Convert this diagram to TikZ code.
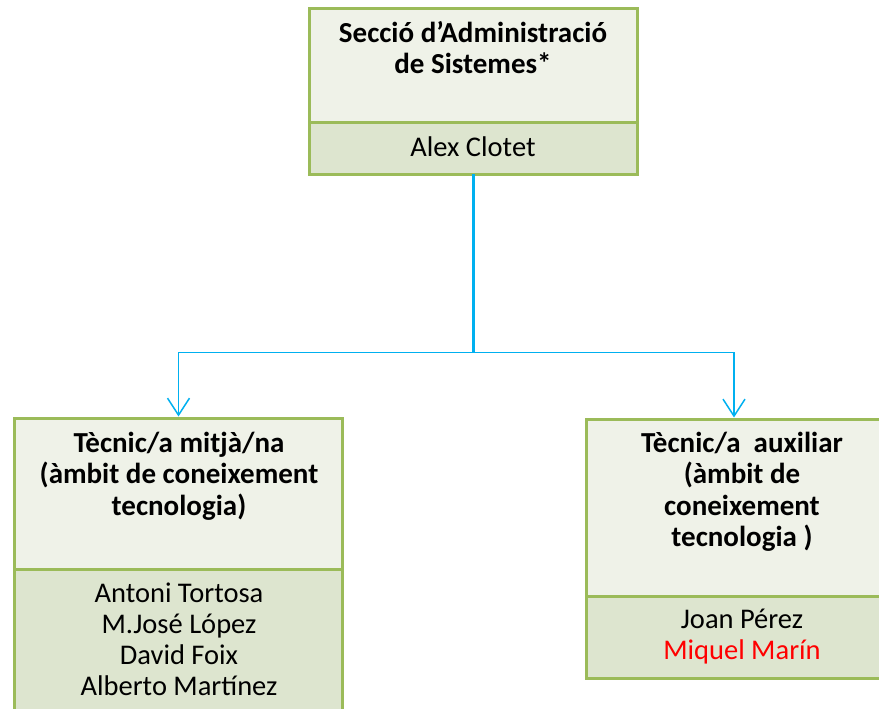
\documentclass[tikz,border=0pt]{standalone}
\usepackage{fontspec}
\setmainfont{Carlito}
\usetikzlibrary{arrows.meta,calc}
\definecolor{boxline}{HTML}{9BBB59}
\definecolor{headfill}{HTML}{EFF2E8}
\definecolor{bodyfill}{HTML}{DDE5CF}
\definecolor{linkcol}{HTML}{00B0F0}
\definecolor{redname}{HTML}{FF0000}
\newcommand{\firstline}{\rule{0pt}{25bp}}
\tikzset{
  headbox/.style={draw=boxline, fill=headfill, line width=3bp, rectangle, inner sep=0pt},
  bodybox/.style={draw=boxline, fill=bodyfill, line width=3bp, rectangle, inner sep=0pt},
  titletext/.style={font=\fontsize{29bp}{31.5bp}\selectfont\bfseries, align=center, inner sep=0pt, anchor=north},
  nametext/.style={font=\fontsize{28.5bp}{31bp}\selectfont, align=center, inner sep=0pt, anchor=north},
  trunk/.style={draw=linkcol, line width=3bp},
  branch/.style={draw=linkcol, line width=1.7bp, -{Straight Barb[length=17bp,width=22bp,line width=1.5bp]}}
}
\begin{document}
\begin{tikzpicture}[x=1bp,y=-1bp]
\useasboundingbox (0,0) rectangle (879,709);
\clip (0,0) rectangle (879,709);
\fill[white] (0,0) rectangle (879,709);
% top box
\node[headbox, minimum width=328bp, minimum height=114bp] (topH) at (473,66) {};
\node[bodybox, minimum width=328bp, minimum height=51bp] (topB) at (473,148.5) {};
\node[titletext] (topT) at (473,17) {\firstline Secció d’Administració\\de Sistemes*};
\node[nametext, anchor=base] (topN) at (473,157) {Alex Clotet};
% left box
\node[bodybox, minimum width=327bp, minimum height=161bp] (leftB) at (178.5,649.5) {};
\node[headbox, minimum width=327bp, minimum height=151bp] (leftH) at (178.5,493.5) {};
\node[titletext] (leftT) at (179,427) {\firstline Tècnic/a mitjà/na\\(àmbit de coneixement\\tecnologia)};
\node[nametext] (leftN) at (179,577) {\firstline Antoni Tortosa\\M.José López\\David Foix\\Alberto Martínez};
% right box
\node[bodybox, minimum width=314bp, minimum height=82bp] (rightB) at (743,637) {};
\node[headbox, minimum width=314bp, minimum height=177bp] (rightH) at (743,507.5) {};
\node[titletext] (rightT) at (742,427) {\firstline Tècnic/a\ \ auxiliar\\(àmbit de\\coneixement\\tecnologia )};
\node[nametext] (rightN) at (742,603) {\firstline Joan Pérez\\\textcolor{redname}{Miquel Marín}};
% connectors
\coordinate (j) at (473,352.5);
\coordinate (jl) at (178.5,352.5);
\coordinate (jr) at (734,352.5);
\draw[trunk] ([yshift=1.5bp]topB.south) -- ([yshift=-0.8bp]j);
\draw[branch] (j) -- (jl) -- (leftH.north);
\draw[branch] (j) -- (jr) -- (jr |- rightH.north);
\end{tikzpicture}
\end{document}
